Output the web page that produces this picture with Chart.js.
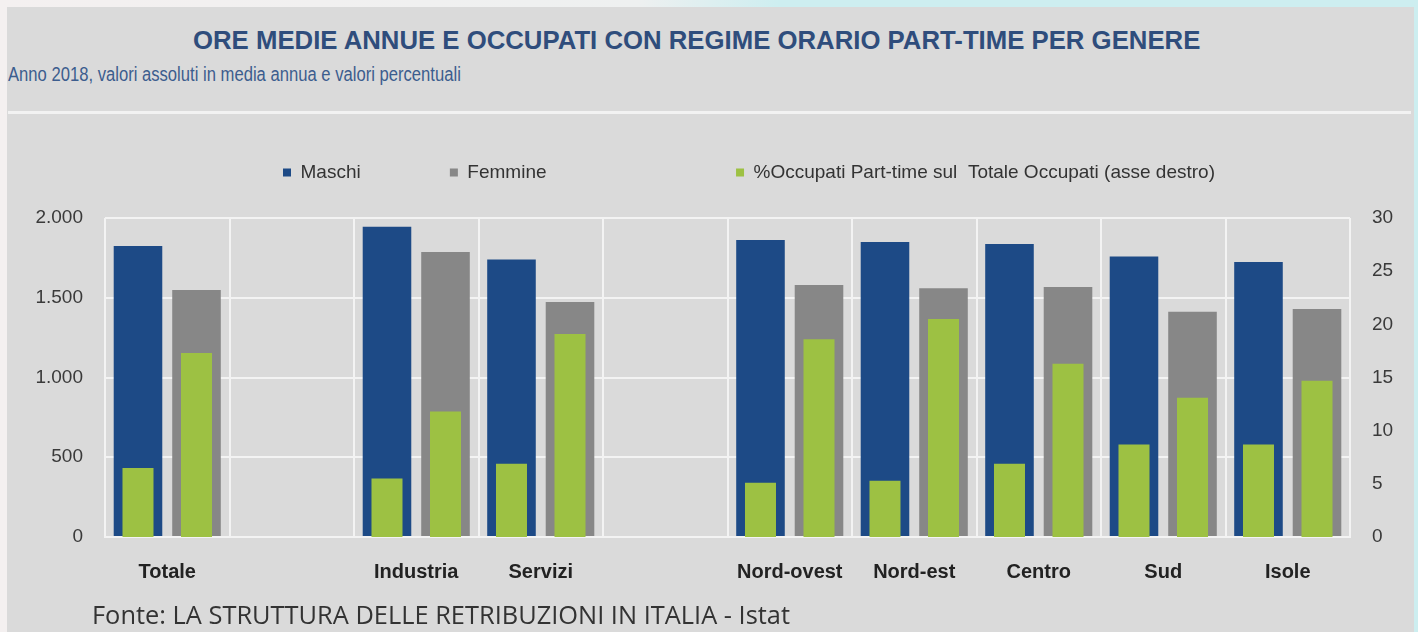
<!DOCTYPE html>
<html lang="it">
<head>
<meta charset="utf-8">
<script src="https://cdn.jsdelivr.net/npm/chart.js@4.4.1/dist/chart.umd.min.js"></script>
<style>
    html, body {
        margin: 0;
        padding: 0;
        width: 1418px;
        height: 632px;
        overflow: hidden;
        background: linear-gradient(90deg, #f4f0f0 0%, #eef0f0 45%, #cdeef0 55%, #cdeef0 100%);
        font-family: "Liberation Sans", Arial, sans-serif;
    }

    #panel {
        position: absolute;
        left: 7px;
        top: 7px;
        width: 1407px;
        height: 625px;
        background: #dadada;
    }

    .fit {
        position: absolute;
        white-space: nowrap;
        transform-origin: 0 0;
        line-height: 1.2;
    }

    #title {
        left: 193px;
        top: 25px;
        font-weight: bold;
        font-size: 25px;
        color: #2f4d7c;
    }

    #subtitle {
        left: 8px;
        top: 62px;
        font-size: 20px;
        color: #3c5d8e;
    }

    #rule {
        position: absolute;
        left: 8px;
        top: 111px;
        width: 1403px;
        height: 3px;
        background: #f2f2f2;
    }

    #source {
        left: 92px;
        top: 599px;
        font-family: "Open Sans", "Noto Sans", sans-serif;
        font-size: 25px;
        color: #333333;
    }

    #chartBox {
        position: absolute;
        left: 7px;
        top: 130px;
        width: 1407px;
        height: 470px;
    }
</style>
</head>
<body>

<div id="panel"></div>
<div id="title" class="fit">ORE MEDIE ANNUE E OCCUPATI CON REGIME ORARIO PART-TIME PER GENERE</div>
<div id="subtitle" class="fit">Anno 2018, valori assoluti in media annua e valori percentuali</div>
<div id="rule"></div>

<div id="chartBox">
    <canvas id="barChart"></canvas>
</div>

<div id="source" class="fit">Fonte: LA STRUTTURA DELLE RETRIBUZIONI IN ITALIA - Istat</div>

<script>

// =====================================
// DATA
// =====================================

const categories = [
    "Totale", "", "Industria", "Servizi", "",
    "Nord-ovest", "Nord-est", "Centro", "Sud", "Isole"
];

// ore medie annue (asse sinistro)
const oreMaschi = [1825, null, 1945, 1740, null, 1862, 1850, 1837, 1758, 1724];
const oreFemmine = [1548, null, 1787, 1473, null, 1580, 1560, 1567, 1413, 1430];

// % occupati part-time sul totale occupati (asse destro)
const ptMaschi = [6.5, null, 5.5, 6.9, null, 5.1, 5.3, 6.9, 8.7, 8.7];
const ptFemmine = [17.3, null, 11.8, 19.1, null, 18.6, 20.5, 16.3, 13.1, 14.7];

const seriesNames = [
    "Maschi",
    "Femmine",
    "%Occupati Part-time sul  Totale Occupati (asse destro)"
];

const leftTicks = ["0", "500", "1.000", "1.500", "2.000"];
const rightTicks = ["0", "5", "10", "15", "20", "25", "30"];

// =====================================
// STYLE
// =====================================

const BLUE = "#1d4a86";
const GREY = "#878787";
const GREEN = "#9dc143";
const GRID = "#f3f3f3";

const NBSP = "\u00a0";

const FONT = "'Liberation Sans', Arial, sans-serif";

// squeeze the html texts to the width they have in the original
function fitText(id, width) {

    const el = document.getElementById(id);

    el.style.transform = "scaleX(" + (width / el.offsetWidth) + ")";
}

fitText("title", 1007);
fitText("subtitle", 453);
fitText("source", 698);

// legend: taller box and moved a bit to the right
const legendTweak = {

    id: "legendTweak",

    beforeInit(chart) {

        const fit = chart.legend.fit;

        chart.legend.fit = function () {

            fit.call(this);

            this.height = 65;
        };
    },

    afterUpdate(chart) {

        chart.legend.left += 34;
        chart.legend.right += 34;
    }
};

const ctx = document.getElementById("barChart");

new Chart(ctx, {

    type: "bar",

    data: {

        labels: categories,

        datasets: [
            {
                label: seriesNames[0] + NBSP.repeat(15),
                data: oreMaschi,
                backgroundColor: BLUE,
                yAxisID: "y",
                stack: "M",
                barPercentage: 0.83,
                order: 2
            },
            {
                label: seriesNames[1] + NBSP.repeat(34),
                data: oreFemmine,
                backgroundColor: GREY,
                yAxisID: "y",
                stack: "F",
                barPercentage: 0.83,
                order: 2
            },
            {
                label: seriesNames[2],
                data: ptMaschi,
                backgroundColor: GREEN,
                yAxisID: "y2",
                stack: "M",
                barPercentage: 0.53,
                order: 1
            },
            {
                label: seriesNames[2],
                data: ptFemmine,
                backgroundColor: GREEN,
                yAxisID: "y2",
                stack: "F",
                barPercentage: 0.53,
                order: 1
            }
        ]
    },

    options: {

        responsive: true,

        maintainAspectRatio: false,

        animation: false,

        layout: {

            padding: {
                left: 23,
                right: 14,
                top: 23,
                bottom: 13
            }
        },

        datasets: {

            bar: {
                categoryPercentage: 0.94
            }
        },

        plugins: {

            legend: {

                position: "top",

                labels: {

                    boxWidth: 8,
                    boxHeight: 8,
                    padding: 10,
                    color: "#333333",

                    font: {
                        family: FONT,
                        size: 19
                    },

                    filter: (item) => item.datasetIndex !== 3,

                    sort: (a, b) => a.datasetIndex - b.datasetIndex
                }
            },

            tooltip: {
                enabled: false
            }
        },

        scales: {

            x: {

                offset: true,

                grid: {
                    color: GRID,
                    lineWidth: 2,
                    drawTicks: false
                },

                border: {
                    color: GRID,
                    width: 2
                },

                ticks: {

                    padding: 23,
                    color: "#222222",

                    font: {
                        family: FONT,
                        size: 20,
                        weight: "bold"
                    }
                },

                afterFit(scale) {
                    scale.height = 50;
                }
            },

            y: {

                position: "left",
                min: 0,
                max: 2000,

                grid: {
                    color: GRID,
                    lineWidth: 2,
                    drawTicks: false
                },

                border: {
                    display: false
                },

                ticks: {

                    stepSize: 500,
                    padding: 22,
                    color: "#3a3a3a",

                    font: {
                        family: FONT,
                        size: 19
                    },

                    callback: (value, index) => leftTicks[index]
                },

                afterFit(scale) {
                    scale.width = 75;
                }
            },

            y2: {

                position: "right",
                min: 0,
                max: 30,

                grid: {
                    display: false,
                    drawTicks: false
                },

                border: {
                    display: false
                },

                ticks: {

                    stepSize: 5,
                    padding: 22,
                    color: "#3a3a3a",

                    font: {
                        family: FONT,
                        size: 19
                    },

                    callback: (value, index) => rightTicks[index]
                },

                afterFit(scale) {
                    scale.width = 50;
                }
            }
        }
    },

    plugins: [legendTweak]
});

</script>
</body>
</html>
